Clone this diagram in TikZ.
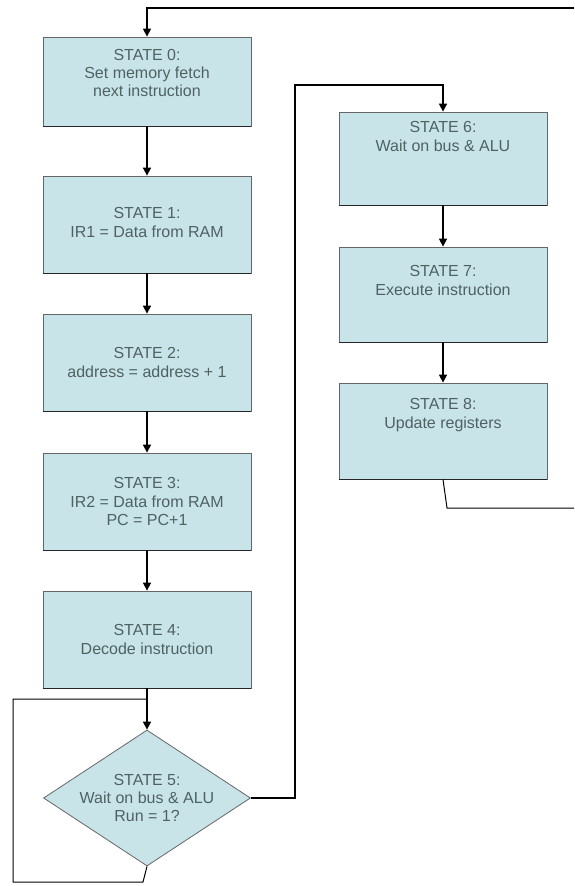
\documentclass[tikz,border=0pt]{standalone}
\usepackage{fontspec}
\setmainfont{Liberation Sans}
\usetikzlibrary{arrows.meta,shapes.geometric,calc}
\definecolor{boxfill}{HTML}{C9E4E8}
\definecolor{txtcol}{HTML}{4E6264}
\begin{document}
\begin{tikzpicture}[x=1pt,y=-1pt,
  box/.style={draw=black!60, line width=0.8pt, fill=boxfill, minimum width=208pt, inner sep=0pt},
  dia/.style={draw=black!60, line width=0.8pt, fill=boxfill, diamond, minimum width=207pt, minimum height=136pt, inner sep=0pt},
  txt/.style={text=txtcol, align=center, font=\fontsize{16}{18.4}\selectfont, inner sep=0pt},
  flow/.style={line width=1.6pt, -{Triangle[length=8pt,width=8pt]}},
  loopline/.style={line width=1pt, black},
  shadowline/.style={line width=1.6pt, black!85}]
\useasboundingbox (0,0) rectangle (574,886);

% boxes, left column
\node[box, minimum height=89pt] (s0) at (147,81.5) {};
\node[box, minimum height=97pt] (s1) at (147,224.5) {};
\node[box, minimum height=97pt] (s2) at (147,362.5) {};
\node[box, minimum height=97pt] (s3) at (147,501.5) {};
\node[box, minimum height=97pt] (s4) at (147,639.5) {};
\node[dia] (s5) at (147,798) {};
% boxes, right column
\node[box, minimum height=93pt] (s6) at (443,158.5) {};
\node[box, minimum height=95pt] (s7) at (443,294.5) {};
\node[box, minimum height=96pt] (s8) at (443,431) {};

\foreach \n in {s0,s1,s2,s3,s4,s6,s7,s8}
  \draw[shadowline] (\n.south west) -- (\n.south east);

% texts
\node[txt] (t0) at ([yshift=8.5pt]s0.center) {STATE 0:\\Set memory fetch\\next instruction};
\node[txt] (t1) at ([yshift=2pt]s1.center) {STATE 1:\\IR1 = Data from RAM};
\node[txt] (t2) at (s2.center) {STATE 2:\\address = address + 1};
\node[txt] (t3) at (s3.center) {STATE 3:\\IR2 = Data from RAM\\PC = PC+1};
\node[txt] (t4) at (s4.center) {STATE 4:\\Decode instruction};
\node[txt] (t5) at (s5.center) {STATE 5:\\Wait on bus \& ALU\\Run = 1?};
\node[txt] (t6) at ([yshift=22pt]s6.center) {STATE 6:\\Wait on bus \& ALU};
\node[txt] (t7) at ([yshift=14pt]s7.center) {STATE 7:\\Execute instruction};
\node[txt] (t8) at ([yshift=16pt]s8.center) {STATE 8:\\Update registers};

% helper coordinates
\coordinate (topR) at (574,8);
\coordinate (join) at (147,699);
\coordinate (lA) at (143,882);
\coordinate (lB) at (13,882);
\coordinate (lC) at (13,699);
\coordinate (rUp) at (295,85);
\coordinate (bend8) at (447,508);
\coordinate (botR) at (574,508);

% connectors
\draw[line width=1.4pt, -{Triangle[length=8pt,width=8pt]}] (topR) -| (s0.north);
\draw[flow] (s0.south) -- (s1.north);
\draw[flow] (s1.south) -- (s2.north);
\draw[flow] (s2.south) -- (s3.north);
\draw[flow] (s3.south) -- (s4.north);
\draw[flow] (s4.south) -- (s5.north);
\draw[loopline] (s5.south) -- (lA) -- (lB) -- (lC) -- (join);
\draw[flow] (s5.east) -| (rUp) -| (s6.north);
\draw[flow] (s6.south) -- (s7.north);
\draw[flow] (s7.south) -- (s8.north);
\draw[loopline] (s8.south) -- (bend8) -- (botR);
\end{tikzpicture}
\end{document}
